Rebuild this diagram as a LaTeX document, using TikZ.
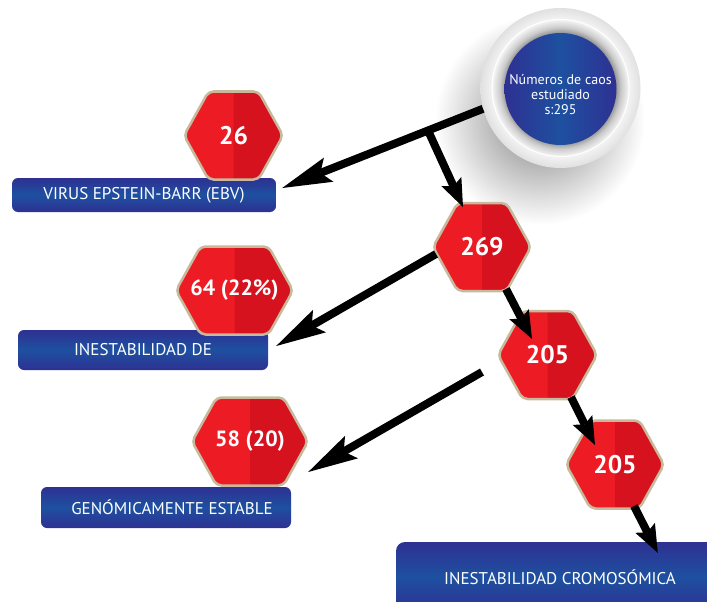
\documentclass[tikz,border=0pt]{standalone}
\usepackage{fontspec}
\setmainfont{PT Sans}
\usetikzlibrary{arrows.meta,calc}

\definecolor{redlight}{HTML}{ED1C24}
\definecolor{reddark}{HTML}{D6121F}
\definecolor{hexrim}{HTML}{C8B99C}
\definecolor{navy}{HTML}{2E3192}
\definecolor{royal}{HTML}{1E50A0}

% radial shadings: the circle edge sits at 25bp
% soft drop shadow under the total-count disc
\pgfdeclareradialshading{castshadow}{\pgfpoint{0bp}{0bp}}{color(0bp)=(black!34); color(10bp)=(black!30); color(25bp)=(white); color(50bp)=(white)}
% outer halo and inner bevel ring
\pgfdeclareradialshading{haloouter}{\pgfpoint{0bp}{0bp}}{color(0bp)=(black!3); color(21bp)=(black!4); color(25bp)=(black!12); color(50bp)=(black!12)}
\pgfdeclareradialshading{haloinner}{\pgfpoint{0bp}{0bp}}{color(0bp)=(black!50); color(20bp)=(black!42); color(22bp)=(black!20); color(25bp)=(black!3); color(50bp)=(black!3)}

\tikzset{
  bluebox/.style={rounded corners=6pt, top color=navy, bottom color=navy, middle color=royal,
    text=white, font=\fontsize{17}{20}\selectfont, inner sep=0pt},
  hexedge/.style={draw=hexrim, line width=2.5pt, rounded corners=5pt},
  hexlabel/.style={text=white, font=\bfseries\fontsize{25.5}{28}\selectfont, inner sep=0pt},
  smallcount/.style={font=\bfseries\fontsize{22}{26}\selectfont},
  link/.style={draw=black, line width=8pt},
  bigtip/.style={link, -{Stealth[length=50pt,width=26pt,inset=9pt,line width=0pt]}},
  smalltip/.style={link, -{Stealth[length=28pt,width=22pt,inset=5pt,line width=0pt]}},
}

% red two-tone hexagon with a named label node
% #1 name, #2 x, #3 y, #4 half width, #5 label
\newcommand\hexbadge[6][]{%
  \fill[redlight, rounded corners=5pt] ({#3-#5},{#4}) -- ({#3-#5+24.5},{#4-44}) -- ({#3+#5-24.5},{#4-44}) -- ({#3+#5},{#4}) -- ({#3+#5-24.5},{#4+44}) -- ({#3-#5+24.5},{#4+44}) -- cycle;
  \begin{scope}
    \clip ({#3},{#4-50}) rectangle ({#3+#5+5},{#4+50});
    \fill[reddark, rounded corners=5pt] ({#3-#5},{#4}) -- ({#3-#5+24.5},{#4-44}) -- ({#3+#5-24.5},{#4-44}) -- ({#3+#5},{#4}) -- ({#3+#5-24.5},{#4+44}) -- ({#3-#5+24.5},{#4+44}) -- cycle;
  \end{scope}
  \draw[hexedge] ({#3-#5},{#4}) -- ({#3-#5+24.5},{#4-44}) -- ({#3+#5-24.5},{#4-44}) -- ({#3+#5},{#4}) -- ({#3+#5-24.5},{#4+44}) -- ({#3-#5+24.5},{#4+44}) -- cycle;
  \node[hexlabel, #1, minimum width={2*#5}, minimum height=88] (#2) at (#3,#4) {#6};
}

\begin{document}
\begin{tikzpicture}[x=1pt, y=-1pt]
  \useasboundingbox (0,0) rectangle (707,602);
  \clip (0,0) rectangle (707,602);

  % shadow of the disc
  \shade[shading=castshadow] (540,120) circle[radius=105];

  % category boxes
  \node[bluebox, minimum width=264, minimum height=34] (ebv) at (144,195) {VIRUS EPSTEIN-BARR (EBV)};
  \node[bluebox, minimum width=250, minimum height=40] (inest) at (143,350) {INESTABILIDAD DE};
  \node[bluebox, minimum width=250, minimum height=41] (genom) at (166,507.5) {\hspace*{12pt}GENÓMICAMENTE ESTABLE};
  \node[bluebox, minimum width=328, minimum height=70, rounded corners=9pt] (cromo) at (560,577) {INESTABILIDAD CROMOSÓMICA};

  % counts
  \hexbadge{h26}{233.5}{135.5}{49.5}{26}
  \hexbadge{h269}{482}{247}{49}{269}
  \hexbadge{h205a}{547.5}{355}{49.5}{205}
  \hexbadge{h205b}{615}{464.5}{49}{205}
  \hexbadge[smallcount]{h64}{234.5}{290.5}{58.5}{64 (22\%)}
  \hexbadge[smallcount]{h58}{250}{441.5}{58}{58 (20)}

  % total-count disc with its halo
  \node[circle, minimum size=160, inner sep=0pt, shading=haloouter] (halo) at (560.5,88) {};
  \shade[shading=haloinner] (halo.center) circle[radius=69];
  \draw[white, line width=1pt] (halo.center) circle[radius=68.5];
  \node[circle, minimum size=112, inner sep=0pt, left color=navy, right color=navy, middle color=royal] (total) at (560.5,89) {};
  \node[text=white, align=center, font=\fontsize{14}{15}\selectfont, inner sep=0pt] (totaltext) at ($(total)+(0,6)$) {Números de caos\\estudiado\\s:295};

  % connectors
  \coordinate (fork) at (428,130.5);
  \coordinate (loose) at (482,372);
  \draw[bigtip] (halo.195) -- (fork) -- ($(ebv.east)+(6,-7)$);
  \draw[smalltip] (fork) -- ($(h269)+(-19,-40)$);
  \draw[bigtip] ($(h269)+(-46,7)$) -- ($(inest.east)+(8,-4)$);
  \draw[smalltip] ($(h269)+(24,42)$) -- ($(h205a)+(-15.5,-16)$);
  \draw[bigtip] (loose) -- ($(genom.east)+(17,-35.5)$);
  \draw[smalltip] ($(h205a)+(23.5,42)$) -- ($(h205b)+(-20,-19.5)$);
  \draw[smalltip] ($(h205b)+(19,41.5)$) -- ($(cromo.north west)+(262,11)$);
\end{tikzpicture}
\end{document}
